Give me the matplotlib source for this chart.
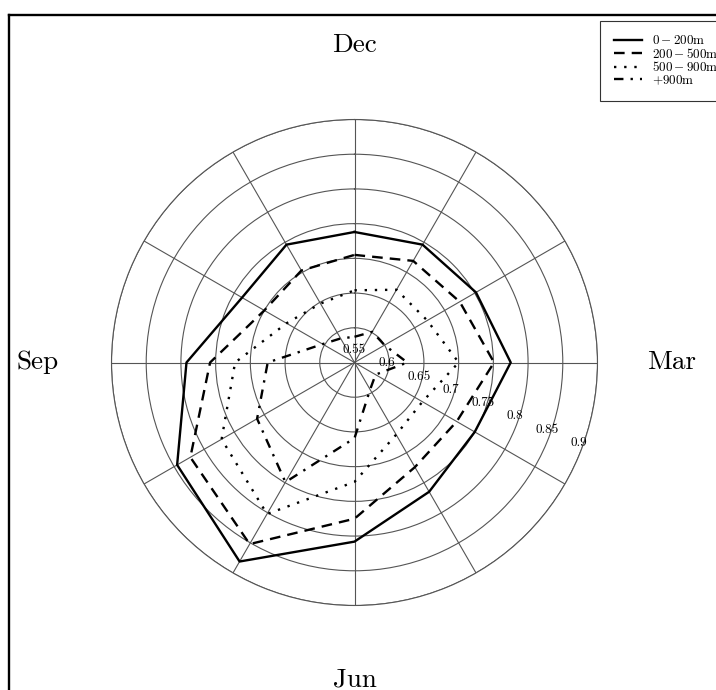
import numpy as np
import matplotlib
matplotlib.use('Agg')
import matplotlib.pyplot as plt
from matplotlib.lines import Line2D
from matplotlib.transforms import offset_copy

months = ['Dec', 'Jan', 'Feb', 'Mar', 'Apr', 'May', 'Jun', 'Jul', 'Aug', 'Sep', 'Oct', 'Nov']
shown_months = ['Dec', 'Mar', 'Jun', 'Sep']
depth_labels = [r'$0-200$m', r'$200-500$m', r'$500-900$m', r'$+900$m']

d_0_200 = [0.738, 0.746, 0.752, 0.775, 0.750, 0.765, 0.808, 0.881, 0.845, 0.792, 0.737, 0.746]
d_200_500 = [0.705, 0.719, 0.725, 0.751, 0.720, 0.724, 0.775, 0.852, 0.823, 0.758, 0.700, 0.703]
d_500_900 = [0.654, 0.671, 0.671, 0.700, 0.663, 0.670, 0.722, 0.802, 0.771, 0.722, 0.663, 0.648]
d_900 = [0.587, 0.601, 0.600, 0.626, 0.585, 0.595, 0.659, 0.749, 0.712, 0.675, 0.603, 0.590]

r_ticks = [0.55, 0.6, 0.65, 0.7, 0.75, 0.8, 0.85, 0.9]
r_tick_labels = ['0.55', '0.6', '0.65', '0.7', '0.75', '0.8', '0.85', '0.9']

plt.rcParams['font.family'] = ['cmr10', 'DejaVu Serif']
plt.rcParams['mathtext.fontset'] = 'cm'
plt.rcParams['axes.formatter.use_mathtext'] = True

W, H = 716, 690
fig = plt.figure(figsize=(W / 100, H / 100), dpi=100)
ax = fig.add_axes([111.5 / W, (H - 605.5) / H, 486 / W, 486 / H], projection='polar')
ax.set_theta_zero_location('N')
ax.set_theta_direction(-1)

theta = np.deg2rad(np.arange(len(months)) * 30.0)
theta_c = np.append(theta, theta[0])

series = [d_0_200, d_200_500, d_500_900, d_900]
styles = ['-', (0, (4.5, 3)), (0, (1, 3.3)), (0, (4, 3, 1, 3))]
for vals, ls, lab in zip(series, styles, depth_labels):
    v = np.append(vals, vals[0])
    ax.plot(theta_c, v, color='black', lw=1.7, linestyle=ls, label=lab)

ax.set_rlim(0.55, 0.9)
ax.set_rticks(r_ticks)
ax.set_yticklabels([])
label_angle = np.deg2rad(112.5)
lab_tr = offset_copy(ax.transData, fig=fig, x=0, y=12.5, units='dots')
for rv, txt in zip(r_ticks, r_tick_labels):
    ax.text(label_angle, rv, txt, transform=lab_tr, ha='center', va='center',
            fontsize=9.5, clip_on=False, zorder=5)

ax.set_thetagrids(np.arange(0, 360, 30),
                  labels=[m if m in shown_months else '' for m in months],
                  fontsize=19.5)
ax.tick_params(axis='x', pad=43)
ax.grid(color='#555555', lw=0.8)
ax.spines['polar'].set_color('#555555')
ax.spines['polar'].set_linewidth(0.8)

leg = fig.legend(loc='upper left', bbox_to_anchor=(600 / W, 1 - 20.7 / H),
                 fontsize=9.4, frameon=True, fancybox=False, edgecolor='#333333',
                 framealpha=1, borderpad=1.05, labelspacing=-0.05, handlelength=2.15,
                 handletextpad=0.77, borderaxespad=0)
leg.get_frame().set_linewidth(0.8)

fig.add_artist(Line2D([8.5 / W, 1.0], [1 - 15 / H, 1 - 15 / H], transform=fig.transFigure,
                      color='black', lw=1.7))
fig.add_artist(Line2D([8.5 / W, 8.5 / W], [0.0, 1 - 15 / H], transform=fig.transFigure,
                      color='black', lw=1.7))

fig.savefig('out.png', dpi=100)
